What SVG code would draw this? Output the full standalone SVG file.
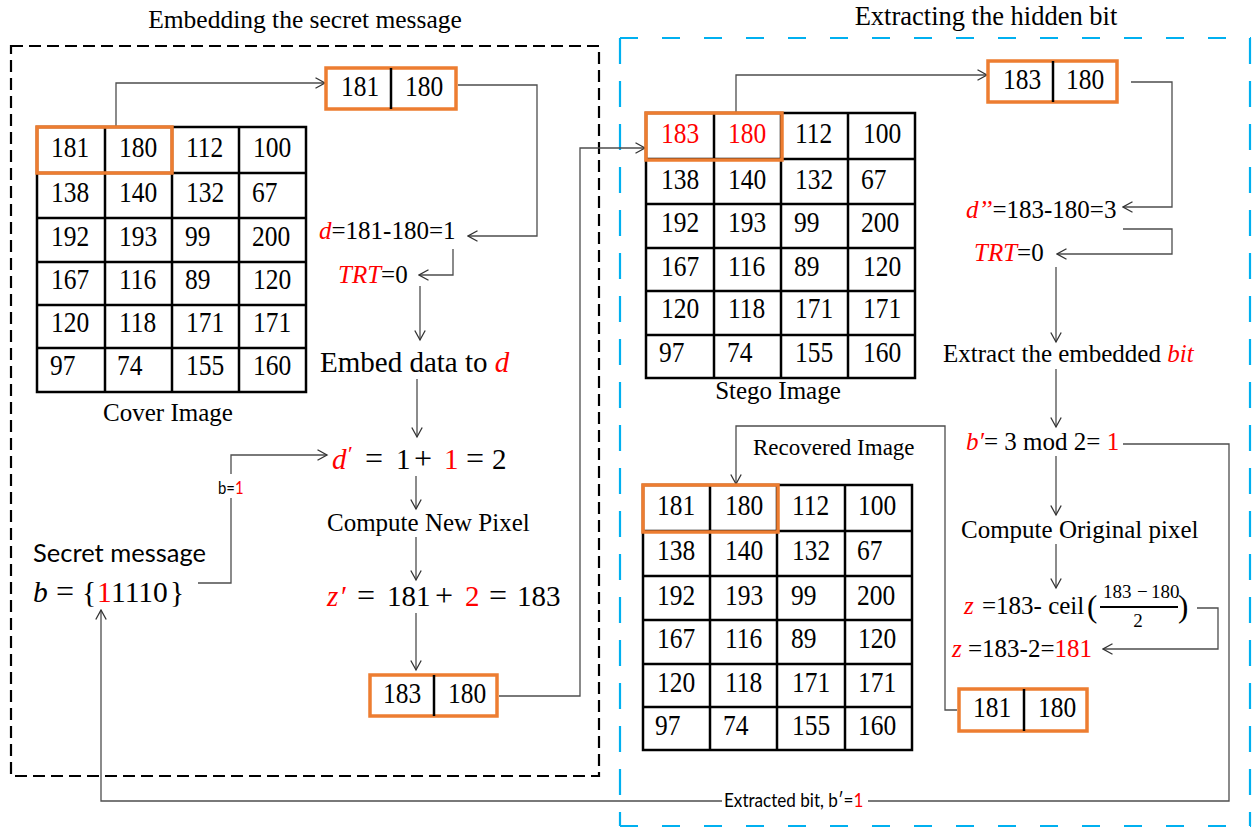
<svg xmlns="http://www.w3.org/2000/svg" width="1252" height="830" viewBox="0 0 1252 830">
  <defs>
    <marker id="arr" viewBox="0 0 12 12" refX="10.5" refY="6" markerWidth="12" markerHeight="12" markerUnits="userSpaceOnUse" orient="auto">
      <path d="M1,0.8 L10.5,6 L1,11.2" fill="none" stroke="#333" stroke-width="1.3"/>
    </marker>
    <style>
      .serif { font-family: "Liberation Serif", "Times New Roman", serif; fill: #000; }
      .t25 { font-size: 25px; }
      .m29 { font-size: 29px; }
      .op { font-size: 32px; }
      .num { font-family: "Liberation Serif", "Times New Roman", serif; font-size: 25.5px; fill: #000; }
      .sans { font-family: Lato, "Liberation Sans", sans-serif; fill: #000; }
      .red { fill: #FF0000; }
      .it { font-style: italic; }
      .grid { fill: none; stroke: #000; stroke-width: 2.5; }
      .hl { fill: none; stroke: #ED7D31; stroke-width: 3.5; }
      .cell { fill: #fff; stroke: #ED7D31; stroke-width: 3.5; }
      .div { stroke: #000; stroke-width: 2.5; }
      .conn-a { fill: none; stroke: #4d4d4d; stroke-width: 1.3; marker-end: url(#arr); }
      .dashK { fill: none; stroke: #000; stroke-width: 2.2; stroke-dasharray: 12 6; }
      .dashBh { fill: none; stroke: #00B0F0; stroke-width: 2.2; stroke-dasharray: 18 24; }
      .dashBv { fill: none; stroke: #00B0F0; stroke-width: 2.2; stroke-dasharray: 26 17; }
    </style>
  </defs>

  <rect width="1252" height="830" fill="#fff"/>

  <!-- section frames and titles -->
  <g id="embedding-frame">
    <rect class="dashK" x="11" y="46" width="588" height="730"/>
    <text class="serif" x="305" y="28" text-anchor="middle" font-size="25.5">Embedding the secret message</text>
  </g>
  <g id="extracting-frame">
    <line class="dashBh" x1="620" y1="38" x2="1251" y2="38"/>
    <line class="dashBh" x1="620" y1="826" x2="1251" y2="826"/>
    <line class="dashBv" x1="620" y1="38" x2="620" y2="826"/>
    <line class="dashBv" x1="1250" y1="38" x2="1250" y2="826"/>
    <text class="serif" x="986" y="25" text-anchor="middle" font-size="26.5">Extracting the hidden bit</text>
  </g>

  <!-- connectors -->
  <g id="connectors">
    <path class="conn-a" d="M116,127 V83 H325"/>
    <path class="conn-a" d="M458,85 H537 V236 H468"/>
    <path class="conn-a" d="M453,249 V275 H419"/>
    <path class="conn-a" d="M420,286 V340"/>
    <path class="conn-a" d="M417,379 V437"/>
    <path class="conn-a" d="M198,583 H231 V455 H327"/>
    <rect x="215" y="474" width="33" height="24" fill="#fff"/>
    <text class="sans" transform="translate(218,494) scale(0.85,1)" font-size="17.5">b=<tspan class="red">1</tspan></text>
    <path class="conn-a" d="M416,476 V509"/>
    <path class="conn-a" d="M416,537 V580"/>
    <path class="conn-a" d="M416,613 V670"/>
    <path class="conn-a" d="M499,696 H580 V148 H645"/>
    <path class="conn-a" d="M736,112 V75 H987"/>
    <path class="conn-a" d="M1131,82 H1172 V207 H1123"/>
    <path class="conn-a" d="M1123,229 H1172 V254 H1057"/>
    <path class="conn-a" d="M1056,267 V342"/>
    <path class="conn-a" d="M1056,369 V427"/>
    <path class="conn-a" d="M1056,456 V515"/>
    <path class="conn-a" d="M1056,544 V588"/>
    <path class="conn-a" d="M1197,608 H1218 V649 H1103"/>
    <path class="conn-a" d="M957,710 H945 V426 H736 V484"/>
    <path class="conn-a" d="M1123,444 H1229 V801 H101 V610"/>
    <rect x="722" y="788" width="146" height="24" fill="#fff"/>
    <text class="sans" transform="translate(724,807) scale(0.9,1)" font-size="19">Extracted bit,  b′=<tspan class="red">1</tspan></text>
  </g>

  <!-- cover image -->
  <g id="cover-image">
    <rect class="grid" x="37" y="127" width="269" height="265"/>
    <path class="grid" d="M105,127 V392 M172,127 V392 M239,127 V392 M37,173 H306 M37,218 H306 M37,262 H306 M37,305 H306 M37,348 H306"/>
    <rect class="hl" x="37" y="127" width="135" height="46"/>
    <g class="num">
      <text transform="translate(51,157) scale(1,1.15)">181</text><text transform="translate(119,157) scale(1,1.15)">180</text><text transform="translate(186,157) scale(1,1.15)">112</text><text transform="translate(253,157) scale(1,1.15)">100</text>
      <text transform="translate(51,202) scale(1,1.15)">138</text><text transform="translate(119,202) scale(1,1.15)">140</text><text transform="translate(186,202) scale(1,1.15)">132</text><text transform="translate(252,202) scale(1,1.15)">67</text>
      <text transform="translate(51,246) scale(1,1.15)">192</text><text transform="translate(119,246) scale(1,1.15)">193</text><text transform="translate(185,246) scale(1,1.15)">99</text><text transform="translate(252,246) scale(1,1.15)">200</text>
      <text transform="translate(51,289) scale(1,1.15)">167</text><text transform="translate(119,289) scale(1,1.15)">116</text><text transform="translate(185,289) scale(1,1.15)">89</text><text transform="translate(253,289) scale(1,1.15)">120</text>
      <text transform="translate(51,332) scale(1,1.15)">120</text><text transform="translate(119,332) scale(1,1.15)">118</text><text transform="translate(186,332) scale(1,1.15)">171</text><text transform="translate(253,332) scale(1,1.15)">171</text>
      <text transform="translate(50,375) scale(1,1.15)">97</text><text transform="translate(117,375) scale(1,1.15)">74</text><text transform="translate(186,375) scale(1,1.15)">155</text><text transform="translate(253,375) scale(1,1.15)">160</text>
    </g>
    <text class="serif t25" x="168" y="421" text-anchor="middle">Cover Image</text>
  </g>

  <!-- selected pair -->
  <g id="pair-cover">
    <rect class="cell" x="326" y="68" width="130" height="41"/>
    <line class="div" x1="391" y1="68" x2="391" y2="109"/>
    <text class="num" transform="translate(341,96) scale(1,1.15)">181</text>
    <text class="num" transform="translate(405,96) scale(1,1.15)">180</text>
  </g>

  <g id="difference">
    <text class="serif t25" x="319" y="239"><tspan class="red it">d</tspan>=181-180=1</text>
  </g>
  <g id="trt-embed">
    <text class="serif t25" x="338" y="283"><tspan class="red it">TRT</tspan>=0</text>
  </g>
  <g id="embed-step">
    <text class="serif" x="320" y="372" font-size="29">Embed data to <tspan class="red it">d</tspan></text>
  </g>

  <g id="secret-message">
    <text class="sans" x="33" y="562" font-size="25.5">Secret message</text>
    <text class="serif" y="602" font-size="29.5"><tspan x="33" class="it">b</tspan><tspan x="56" class="op">=</tspan><tspan x="82">{</tspan><tspan x="97" class="red">1</tspan><tspan x="111">1110</tspan><tspan x="170">}</tspan></text>
  </g>

  <g id="new-difference">
    <text class="serif m29" y="469"><tspan x="332" class="red it">d</tspan><tspan x="348" y="461" class="red" font-size="22">′</tspan><tspan x="365" y="469" class="op">=</tspan><tspan x="396">1</tspan><tspan x="414" class="op">+</tspan><tspan x="444" class="red">1</tspan><tspan x="466" class="op">=</tspan><tspan x="492">2</tspan></text>
  </g>
  <g id="compute-new">
    <text class="serif t25" x="327" y="531">Compute New Pixel</text>
  </g>
  <g id="new-pixel">
    <text class="serif m29" y="606"><tspan x="327" class="red it">z</tspan><tspan x="341" class="red">′</tspan><tspan x="357" class="op">=</tspan><tspan x="387">181</tspan><tspan x="435" class="op">+</tspan><tspan x="465" class="red">2</tspan><tspan x="489" class="op">=</tspan><tspan x="517">183</tspan></text>
  </g>

  <g id="pair-stego">
    <rect class="cell" x="370" y="675" width="127" height="41"/>
    <line class="div" x1="434" y1="675" x2="434" y2="716"/>
    <text class="num" transform="translate(383,703) scale(1,1.15)">183</text>
    <text class="num" transform="translate(448,703) scale(1,1.15)">180</text>
  </g>

  <!-- stego image -->
  <g id="stego-image">
    <rect class="grid" x="646" y="113" width="269" height="265"/>
    <path class="grid" d="M714,113 V378 M781,113 V378 M848,113 V378 M646,159 H915 M646,204 H915 M646,248 H915 M646,291 H915 M646,335 H915"/>
    <rect class="hl" x="646" y="113" width="136" height="47"/>
    <g class="num">
      <text class="red" transform="translate(661,143) scale(1,1.15)">183</text><text class="red" transform="translate(728,143) scale(1,1.15)">180</text><text transform="translate(795,143) scale(1,1.15)">112</text><text transform="translate(863,143) scale(1,1.15)">100</text>
      <text transform="translate(661,189) scale(1,1.15)">138</text><text transform="translate(728,189) scale(1,1.15)">140</text><text transform="translate(795,189) scale(1,1.15)">132</text><text transform="translate(861,189) scale(1,1.15)">67</text>
      <text transform="translate(661,232) scale(1,1.15)">192</text><text transform="translate(728,232) scale(1,1.15)">193</text><text transform="translate(794,232) scale(1,1.15)">99</text><text transform="translate(861,232) scale(1,1.15)">200</text>
      <text transform="translate(661,276) scale(1,1.15)">167</text><text transform="translate(728,276) scale(1,1.15)">116</text><text transform="translate(794,276) scale(1,1.15)">89</text><text transform="translate(863,276) scale(1,1.15)">120</text>
      <text transform="translate(661,318) scale(1,1.15)">120</text><text transform="translate(728,318) scale(1,1.15)">118</text><text transform="translate(795,318) scale(1,1.15)">171</text><text transform="translate(863,318) scale(1,1.15)">171</text>
      <text transform="translate(659,362) scale(1,1.15)">97</text><text transform="translate(727,362) scale(1,1.15)">74</text><text transform="translate(795,362) scale(1,1.15)">155</text><text transform="translate(863,362) scale(1,1.15)">160</text>
    </g>
    <text class="serif t25" x="778" y="399" text-anchor="middle">Stego Image</text>
  </g>

  <g id="pair-extract">
    <rect class="cell" x="988" y="61" width="129" height="41"/>
    <line class="div" x1="1053" y1="61" x2="1053" y2="102"/>
    <text class="num" transform="translate(1003,89) scale(1,1.15)">183</text>
    <text class="num" transform="translate(1066,89) scale(1,1.15)">180</text>
  </g>

  <g id="difference-stego">
    <text class="serif t25" x="966" y="218"><tspan class="red it">d’’</tspan>=183-180=3</text>
  </g>
  <g id="trt-extract">
    <text class="serif t25" x="974" y="261"><tspan class="red it">TRT</tspan>=0</text>
  </g>
  <g id="extract-step">
    <text class="serif t25" x="943" y="362">Extract the embedded <tspan class="red it">bit</tspan></text>
  </g>
  <g id="extracted-bit">
    <text class="serif t25" x="966" y="450"><tspan class="red it">b′</tspan>= 3 mod 2= <tspan class="red">1</tspan></text>
  </g>
  <g id="compute-original">
    <text class="serif t25" x="961" y="538">Compute Original pixel</text>
  </g>
  <g id="original-formula">
    <text class="serif t25" y="614"><tspan x="964" class="red it">z</tspan><tspan x="982">=183- ceil</tspan></text>
    <text class="serif" x="1087" y="617" font-size="31">(</text>
    <text class="serif" x="1103" y="598" font-size="19">183</text>
    <text class="serif" x="1137" y="598" font-size="19">−</text>
    <text class="serif" x="1151" y="598" font-size="19">180</text>
    <line x1="1100" y1="607" x2="1178" y2="607" stroke="#000" stroke-width="1.8"/>
    <text class="serif" x="1138" y="627" font-size="19" text-anchor="middle">2</text>
    <text class="serif" x="1178" y="617" font-size="31">)</text>
  </g>
  <g id="original-value">
    <text class="serif t25" y="657"><tspan x="952" class="red it">z</tspan><tspan x="968">=183-2=</tspan><tspan class="red">181</tspan></text>
  </g>

  <g id="pair-recovered">
    <rect class="cell" x="959" y="689" width="128" height="42"/>
    <line class="div" x1="1024" y1="689" x2="1024" y2="731"/>
    <text class="num" transform="translate(973,717) scale(1,1.15)">181</text>
    <text class="num" transform="translate(1038,717) scale(1,1.15)">180</text>
  </g>

  <!-- recovered image -->
  <g id="recovered-image">
    <text class="serif" x="753" y="455" font-size="23">Recovered Image</text>
    <rect class="grid" x="643" y="485" width="269" height="265"/>
    <path class="grid" d="M710,485 V750 M777,485 V750 M845,485 V750 M643,531 H912 M643,576 H912 M643,620 H912 M643,664 H912 M643,707 H912"/>
    <rect class="hl" x="643" y="485" width="135" height="47"/>
    <g class="num">
      <text transform="translate(657,515) scale(1,1.15)">181</text><text transform="translate(725,515) scale(1,1.15)">180</text><text transform="translate(792,515) scale(1,1.15)">112</text><text transform="translate(858,515) scale(1,1.15)">100</text>
      <text transform="translate(657,560) scale(1,1.15)">138</text><text transform="translate(725,560) scale(1,1.15)">140</text><text transform="translate(792,560) scale(1,1.15)">132</text><text transform="translate(857,560) scale(1,1.15)">67</text>
      <text transform="translate(657,605) scale(1,1.15)">192</text><text transform="translate(725,605) scale(1,1.15)">193</text><text transform="translate(791,605) scale(1,1.15)">99</text><text transform="translate(857,605) scale(1,1.15)">200</text>
      <text transform="translate(657,648) scale(1,1.15)">167</text><text transform="translate(725,648) scale(1,1.15)">116</text><text transform="translate(791,648) scale(1,1.15)">89</text><text transform="translate(858,648) scale(1,1.15)">120</text>
      <text transform="translate(657,692) scale(1,1.15)">120</text><text transform="translate(725,692) scale(1,1.15)">118</text><text transform="translate(792,692) scale(1,1.15)">171</text><text transform="translate(858,692) scale(1,1.15)">171</text>
      <text transform="translate(655,735) scale(1,1.15)">97</text><text transform="translate(723,735) scale(1,1.15)">74</text><text transform="translate(792,735) scale(1,1.15)">155</text><text transform="translate(858,735) scale(1,1.15)">160</text>
    </g>
  </g>
</svg>
